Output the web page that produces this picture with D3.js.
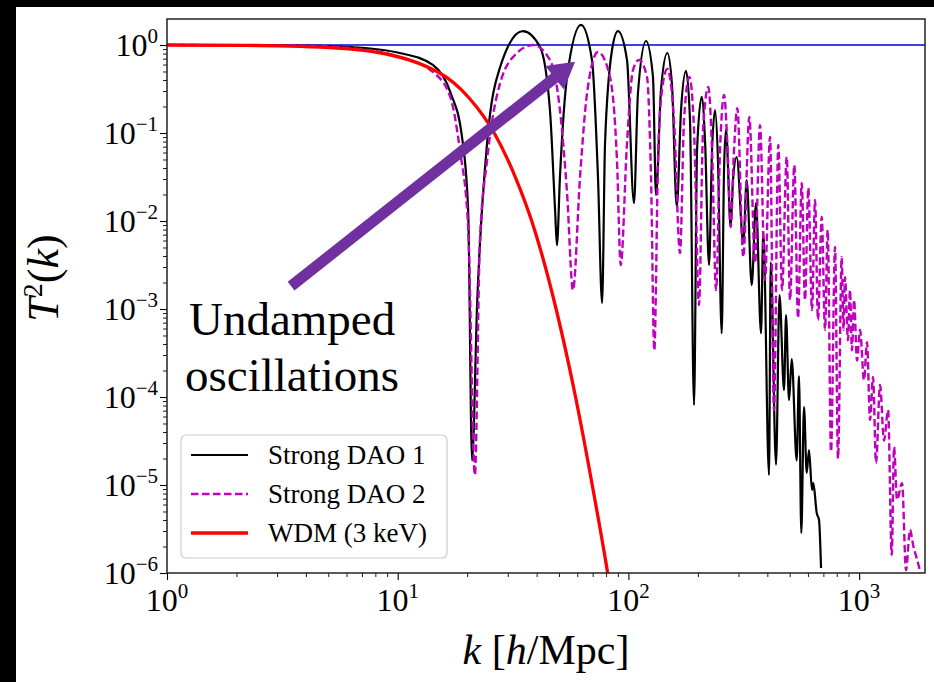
<!DOCTYPE html>
<html>
<head>
<meta charset="utf-8">
<title>Transfer functions: strong DAO vs WDM</title>
<script src="https://d3js.org/d3.v7.min.js"></script>
<style>
body { margin: 0; background: #000; }
svg { display: block; }
text { font-family: "Liberation Serif", "Times New Roman", serif; fill: #000; }
</style>
</head>
<body>
<svg id="chart"></svg>
<script>
// values (k in h/Mpc, T^2 dimensionless)
var dao1K = [1, 3.77, 6.21, 10.2, 14.2, 16.9, 19.0, 20.2, 21.0, 22.1, 24.4, 27.8, 34.9, 41.4, 45.7, 48.1, 49.0, 50.5, 54.2, 62.3,
    69.5, 73.8, 76.9, 79.2, 84.9, 90.1, 98.6, 105.7, 110, 119.2, 127.8, 131.7, 138.4, 147.4, 154.5, 162, 169.1, 177.7, 184.9, 192.5,
    198.4, 207.8, 214.8, 223.6, 230.4, 237.4, 244.4, 253.7, 259.7, 264.9, 277.5, 284.0, 294.7, 314.8, 325.6, 342.3, 357.4, 375.6, 384.3, 406.8,
    413.9, 436.3, 451.8, 472.6, 482.1, 496.8, 510.4, 536.3, 548.8, 561.5, 576.9, 592.7, 606.4, 625, 633.2, 655, 670.2, 683.8];
var dao1T2 = [1, 0.987, 0.949, 0.811, 0.593, 0.292, 0.090, 0.0133, 1.9e-5, 0.00117, 0.077, 0.562, 1.44, 0.949, 0.182, 0.0133, 0.0053, 0.0316, 0.433, 1.69,
    0.676, 0.0316, 0.00117, 0.077, 0.877, 1.44, 0.676, 0.016, 0.285, 1.11, 0.433, 0.0197, 0.308, 0.811, 0.351, 0.0146, 0.182, 0.507, 0.141, 8.1e-5,
    0.064, 0.257, 0.083, 0.00316, 0.064, 0.182, 0.0493, 5.3e-4, 0.038, 0.111, 0.00855, 0.0292, 0.0534, 0.0056, 0.0292, 0.00187, 0.016, 5.3e-4, 0.0075, 1.3e-5,
    0.0034, 1.7e-5, 0.00144, 1.2e-4, 8.5e-4, 9.2e-5, 2.7e-4, 1.9e-5, 1.73e-4, 2.85e-6, 7.7e-5, 1.37e-5, 2.5e-5, 8.8e-6, 1.05e-5, 4.8e-6, 4.0e-6, 1.14e-6];

var dao2K = [1, 3.77, 6.21, 10.2, 14.2, 16.9, 18.6, 20.2, 21.6, 22.7, 24.4, 27.8, 32.9, 38.6, 45.7, 50.5, 54.2, 57.5, 61.7, 66.2,
    73.8, 83.2, 89.2, 92.6, 98.6, 104.7, 111.2, 120.4, 125.3, 129.5, 134.4, 139.8, 147.4, 157.6, 167.4, 174.2, 183.7, 192.5, 202.3, 210.6,
    222.0, 230.4, 239.8, 249.5, 259.7, 270.2, 277.5, 286.9, 296.5, 314.8, 334.2, 353.9, 371.8, 390.9, 411.1, 427.6, 446.4, 463.3, 485.6, 501.8,
    523.7, 543.5, 563.9, 582.8, 602.3, 625, 643.9, 663.4, 688.5, 711.6, 730.9, 755.4, 786.3, 809.9, 840.5, 855.7, 868.6, 895, 912.9, 931.3,
    950.4, 979.3, 1009, 1050, 1082, 1115, 1149, 1184, 1232, 1282, 1335, 1385, 1417, 1460, 1535, 1597, 1662, 1713, 1800, 1855];
var dao2T2 = [1, 0.987, 0.924, 0.731, 0.494, 0.257, 0.064, 0.00855, 1.3e-5, 0.0056, 0.0493, 0.370, 0.811, 1.0, 0.676, 0.182, 0.0208, 0.00164, 0.0316, 0.285,
    0.833, 0.433, 0.0493, 0.00316, 0.077, 0.52, 0.676, 0.433, 0.0316, 3.4e-4, 0.0493, 0.308, 0.533, 0.141, 0.00433, 0.141, 0.433, 0.108, 0.00111, 0.108,
    0.333, 0.064, 0.00164, 0.064, 0.27, 0.0493, 0.00855, 0.064, 0.192, 0.0039, 0.152, 0.00333, 0.123, 0.00214, 0.090, 7.1e-5, 0.073, 0.00164, 0.0534, 0.00127,
    0.0433, 7.9e-4, 0.027, 0.00127, 0.0237, 9.7e-4, 0.0173, 7.5e-4, 0.0111, 5.8e-4, 0.0079, 2.4e-5, 0.00507, 2.0e-5, 0.0039, 5.8e-4, 0.0023, 4.4e-4, 0.00164, 3.4e-4,
    0.00127, 2.6e-4, 5.8e-4, 1.56e-4, 4.2e-4, 5.5e-5, 1.69e-4, 1.78e-5, 1.37e-4, 3.2e-5, 7.1e-5, 1.6e-6, 2.7e-5, 6.8e-6, 1.05e-5, 1.08e-6, 3.1e-6, 2.1e-6, 1.3e-6, 9.5e-7];

var wdmK = [1, 2.2, 3.0, 6.3, 14.8, 20.4, 26.2, 32.6, 38.1, 48.6, 59.0, 69.7, 81.3, 93];
var wdmT2 = [1, 0.99, 0.98, 0.9, 0.5, 0.25, 0.1, 0.03, 0.01, 1e-3, 1e-4, 1e-5, 1e-6, 1e-7];

var seriesNames = ["Strong DAO 1", "Strong DAO 2", "WDM (3 keV)"];
var xTickExp = [0, 1, 2, 3];
var yTickExp = [0, -1, -2, -3, -4, -5, -6];

// annotation arrow (data coordinates): tail, head
var arrowK = [3.45, 58.7];
var arrowT2 = [1.82e-3, 0.646];

var W = 934, H = 682;
var mLeft = 167, mRight = 925, mTop = 19, mBottom = 573;

var svg = d3.select('#chart').attr('width', W).attr('height', H);

// black frame around the white figure
svg.append('rect').attr('width', W).attr('height', H).attr('fill', '#000');
svg.append('rect').attr('x', 16).attr('y', 7).attr('width', W - 16).attr('height', H - 7).attr('fill', '#fff');

var x = d3.scaleLog().domain([1, 1930]).range([mLeft, mRight]);
var y = d3.scaleLog().domain([1e-6, 1.975]).range([mBottom, mTop]);

svg.append('clipPath').attr('id', 'plotclip')
    .append('rect').attr('x', mLeft).attr('y', mTop).attr('width', mRight - mLeft).attr('height', mBottom - mTop);

var plot = svg.append('g').attr('clip-path', 'url(#plotclip)');

// horizontal reference at T^2 = 1
plot.append('line')
    .attr('x1', mLeft).attr('x2', mRight)
    .attr('y1', y(1)).attr('y2', y(1))
    .attr('stroke', '#0000dd').attr('stroke-width', 1.4);

function pairs(ks, vs) { return ks.map(function (k, i) { return [k, vs[i]]; }); }

var line = d3.line()
    .x(function (d) { return x(d[0]); })
    .y(function (d) { return y(d[1]); })
    .curve(d3.curveMonotoneX);

var styles = [
    { color: '#000000', width: 2.2, dash: null },
    { color: '#bf00bf', width: 2.4, dash: '7.5,3.5' },
    { color: '#ff0000', width: 3.3, dash: null }
];
var series = [pairs(dao1K, dao1T2), pairs(dao2K, dao2T2), pairs(wdmK, wdmT2)];

series.forEach(function (s, i) {
    plot.append('path')
        .datum(s)
        .attr('d', line)
        .attr('fill', 'none')
        .attr('stroke', styles[i].color)
        .attr('stroke-width', styles[i].width)
        .attr('stroke-dasharray', styles[i].dash)
        .attr('stroke-linejoin', 'round');
});

// axes: major + minor log ticks
var xMinor = [], yMinor = [];
for (var e = 0; e <= 3; e++) for (var m = 2; m <= 9; m++) { var v = m * Math.pow(10, e); if (v <= 1930) xMinor.push(v); }
for (var e2 = -6; e2 <= 0; e2++) for (var m2 = 2; m2 <= 9; m2++) { var v2 = m2 * Math.pow(10, e2); if (v2 <= 1.975) yMinor.push(v2); }

function styleAxis(g) {
    g.select('.domain').remove();
    g.selectAll('line').attr('stroke', '#000').attr('stroke-width', 1.1);
}

svg.append('g').attr('transform', 'translate(0,' + mBottom + ')')
    .call(d3.axisBottom(x).tickValues(xTickExp.map(function (d) { return Math.pow(10, d); })).tickSize(7).tickFormat(''))
    .call(styleAxis);
svg.append('g').attr('transform', 'translate(0,' + mBottom + ')')
    .call(d3.axisBottom(x).tickValues(xMinor).tickSize(4).tickFormat(''))
    .call(function (g) { styleAxis(g); g.selectAll('line').attr('stroke-width', 0.9); });
svg.append('g').attr('transform', 'translate(' + mLeft + ',0)')
    .call(d3.axisLeft(y).tickValues(yTickExp.map(function (d) { return Math.pow(10, d); })).tickSize(7).tickFormat(''))
    .call(styleAxis);
svg.append('g').attr('transform', 'translate(' + mLeft + ',0)')
    .call(d3.axisLeft(y).tickValues(yMinor).tickSize(4).tickFormat(''))
    .call(function (g) { styleAxis(g); g.selectAll('line').attr('stroke-width', 0.9); });

// frame
svg.append('rect')
    .attr('x', mLeft).attr('y', mTop).attr('width', mRight - mLeft).attr('height', mBottom - mTop)
    .attr('fill', 'none').attr('stroke', '#222').attr('stroke-width', 1.5);

// tick labels 10^n
function powLabel(sel, exp) {
    sel.append('tspan').text('10');
    sel.append('tspan').attr('dy', -13).attr('font-size', 21).text(exp < 0 ? '\u2212' + (-exp) : String(exp));
}
xTickExp.forEach(function (d) {
    var t = svg.append('text')
        .attr('x', x(Math.pow(10, d))).attr('y', 611)
        .attr('text-anchor', 'middle').attr('font-size', 32);
    powLabel(t, d);
});
yTickExp.forEach(function (d) {
    var t = svg.append('text')
        .attr('x', 158).attr('y', y(Math.pow(10, d)) + 11)
        .attr('text-anchor', 'end').attr('font-size', 32);
    powLabel(t, d);
});

// axis titles
var xl = svg.append('text').attr('x', (mLeft + mRight) / 2).attr('y', 664)
    .attr('text-anchor', 'middle').attr('font-size', 42);
xl.append('tspan').attr('font-style', 'italic').text('k');
xl.append('tspan').text(' [');
xl.append('tspan').attr('font-style', 'italic').text('h');
xl.append('tspan').text('/Mpc]');

var yl = svg.append('text').attr('transform', 'translate(58,278) rotate(-90)')
    .attr('text-anchor', 'middle').attr('font-size', 44);
yl.append('tspan').attr('font-style', 'italic').text('T');
yl.append('tspan').attr('dy', -16).attr('font-size', 28).text('2');
yl.append('tspan').attr('dy', 16).text('(');
yl.append('tspan').attr('font-style', 'italic').text('k');
yl.append('tspan').text(')');

// legend
var lg = svg.append('g');
lg.append('rect').attr('x', 181).attr('y', 435).attr('width', 266).attr('height', 123)
    .attr('rx', 5).attr('fill', '#fff').attr('fill-opacity', 0.8)
    .attr('stroke', '#cccccc').attr('stroke-width', 1.2);
seriesNames.forEach(function (name, i) {
    var yy = 455 + i * 39;
    lg.append('line').attr('x1', 191).attr('x2', 248).attr('y1', yy).attr('y2', yy)
        .attr('stroke', styles[i].color).attr('stroke-width', styles[i].width)
        .attr('stroke-dasharray', styles[i].dash);
    lg.append('text').attr('x', 268).attr('y', yy + 9).attr('font-size', 27).text(name);
});

// annotation arrow
var p0 = [x(arrowK[0]), y(arrowT2[0])], p1 = [x(arrowK[1]), y(arrowT2[1])];
var dx = p1[0] - p0[0], dy = p1[1] - p0[1], len = Math.sqrt(dx * dx + dy * dy);
var ux = dx / len, uy = dy / len, nx = -uy, ny = ux;
var shaftW = 5.5, headW = 15, headL = 26;
var hb = [p1[0] - ux * headL, p1[1] - uy * headL];
var pts = [
    [p0[0] + nx * shaftW, p0[1] + ny * shaftW],
    [hb[0] + nx * shaftW, hb[1] + ny * shaftW],
    [hb[0] + nx * headW, hb[1] + ny * headW],
    p1,
    [hb[0] - nx * headW, hb[1] - ny * headW],
    [hb[0] - nx * shaftW, hb[1] - ny * shaftW],
    [p0[0] - nx * shaftW, p0[1] - ny * shaftW]
];
svg.append('polygon').attr('points', pts.map(function (p) { return p.join(','); }).join(' '))
    .attr('fill', '#7030a0');

svg.append('text').attr('x', 189).attr('y', 335).attr('font-size', 47).text('Undamped');
svg.append('text').attr('x', 185).attr('y', 391).attr('font-size', 47).text('oscillations');
</script>
</body>
</html>
